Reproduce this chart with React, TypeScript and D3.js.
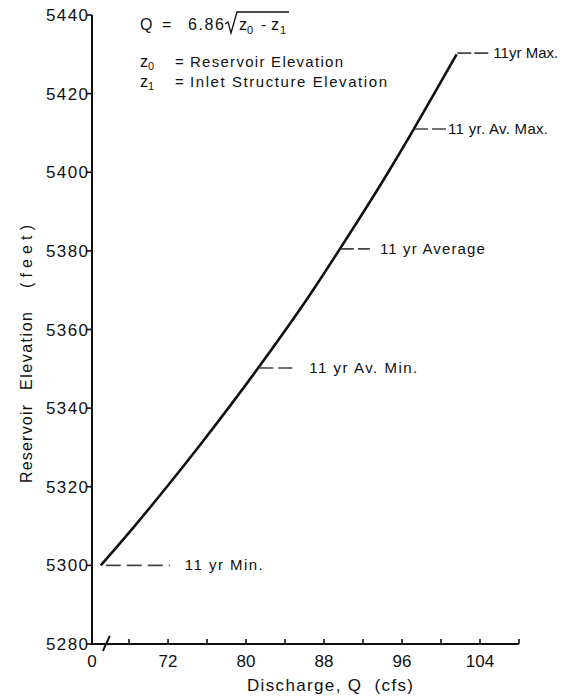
import React from "react";
import * as d3 from "d3";

// Curve: reservoir elevation (ft) vs discharge Q (cfs)
const elevations = [5300, 5310, 5320, 5330, 5340, 5350, 5360, 5370, 5380, 5390, 5400, 5410, 5420, 5430];
const discharge = [65.1, 68.6, 71.9, 75.1, 78.2, 81.2, 84.1, 86.9, 89.5, 92.1, 94.6, 97.0, 99.3, 101.6];

const yTicks = [5280, 5300, 5320, 5340, 5360, 5380, 5400, 5420, 5440];
const xTicks = [68, 72, 76, 80, 84, 88, 92, 96, 100, 104, 108];
const xTickLabels = [72, 80, 88, 96, 104];

const markerElev = [5430.3, 5411, 5380.5, 5350.2, 5300];
const markerLabels = ["11yr Max.", "11 yr. Av. Max.", "11 yr Average", "11 yr Av. Min.", "11 yr Min."];

const FONT = "'Liberation Sans', Arial, sans-serif";

export default function App() {
  const W = 568, H = 698;
  const x = d3.scaleLinear().domain([64.2, 108]).range([92, 519]);
  const y = d3.scaleLinear().domain([5280, 5440]).range([644, 15]);

  const pts: [number, number][] = elevations.map((e, i) => [discharge[i], e]);
  const line = d3
    .line<[number, number]>()
    .x((d) => x(d[0]))
    .y((d) => y(d[1]))
    .curve(d3.curveBasis);

  const qAt = (e: number) => {
    const f = d3.scaleLinear().domain(elevations).range(discharge);
    return f(e);
  };

  // layout for annotation leaders: [dash start gap, dash length, text gap, text length, dasharray]
  const markerStyle: [number, number, number, number, string][] = [
    [0, 31, 5, 65, "14 3 14"],
    [1, 31, 2, 100, "13 4 14"],
    [1, 29, 10, 105, "13 4 12"],
    [1, 33, 17, 108, "14 5 14"],
    [5, 64, 15, 78, "15 6"],
  ];

  return (
    <svg width={W} height={H} style={{ position: "absolute", left: 0, top: 0, background: "#fff" }}>
      <rect x={0} y={0} width={W} height={H} fill="#fff" />
      {/* axes */}
      <line x1={92} y1={y(5440)} x2={92} y2={y(5280) + 1} stroke="#111" strokeWidth={2} />
      <line x1={91} y1={y(5280)} x2={x(108)} y2={y(5280)} stroke="#111" strokeWidth={2} />
      {yTicks.map((t) => (
        <g key={"yt" + t}>
          <line x1={87} x2={92} y1={y(t)} y2={y(t)} stroke="#111" strokeWidth={1.6} />
          <text
            x={88}
            y={y(t) + 6}
            textAnchor="end"
            fontFamily={FONT}
            fontSize={17}
            fill="#111"
            textLength={42}
            lengthAdjust="spacing"
          >
            {t}
          </text>
        </g>
      ))}
      {xTicks.map((t) => (
        <line key={"xt" + t} x1={x(t)} x2={x(t)} y1={y(5280)} y2={y(5280) - 5} stroke="#111" strokeWidth={1.6} />
      ))}
      {xTickLabels.map((t) => (
        <text key={"xl" + t} x={x(t)} y={667} textAnchor="middle" fontFamily={FONT} fontSize={17} fill="#111">
          {t}
        </text>
      ))}
      <text x={92} y={667} textAnchor="middle" fontFamily={FONT} fontSize={17} fill="#111">
        0
      </text>
      {/* axis break */}
      <path d="M103,651 Q105,646 106,644 L108,640 Q109,637 110,636" fill="none" stroke="#111" strokeWidth={2} />

      {/* axis titles */}
      <text x={247} y={691} fontFamily={FONT} fontSize={17} fill="#111" textLength={166} lengthAdjust="spacing" xmlSpace="preserve">
        Discharge, Q  (cfs)
      </text>
      <g transform="rotate(-90)" fontFamily={FONT} fontSize={16} fill="#111">
        <text x={-483} y={32} textLength={78} lengthAdjust="spacing">Reservoir</text>
        <text x={-390} y={32} textLength={78} lengthAdjust="spacing">Elevation</text>
        <text x={-288} y={32} textLength={63} lengthAdjust="spacing" xmlSpace="preserve">(feet)</text>
      </g>

      {/* formula block */}
      <g fontFamily={FONT} fill="#111">
        <text x={140} y={30} fontSize={16}>Q</text>
        <text x={162} y={30} fontSize={16}>=</text>
        <text x={188} y={30} fontSize={16} textLength={36} lengthAdjust="spacing">6.86</text>
        <path d="M225,24 L228,22 L231,33 L237,12 L289,12" fill="none" stroke="#111" strokeWidth={1.3} />
        <text x={239} y={30} fontSize={16}>z</text>
        <text x={247} y={34} fontSize={11}>0</text>
        <text x={261} y={30} fontSize={16}>-</text>
        <text x={271} y={30} fontSize={16}>z</text>
        <text x={280} y={34} fontSize={11}>1</text>

        <text x={140} y={67} fontSize={16}>z</text>
        <text x={148} y={70} fontSize={11}>0</text>
        <text x={175} y={67} fontSize={15}>=</text>
        <text x={190} y={67} fontSize={15} textLength={153} lengthAdjust="spacing">Reservoir Elevation</text>

        <text x={140} y={87} fontSize={16}>z</text>
        <text x={148} y={90} fontSize={11}>1</text>
        <text x={175} y={87} fontSize={15}>=</text>
        <text x={190} y={87} fontSize={15} textLength={197} lengthAdjust="spacing">Inlet Structure Elevation</text>
      </g>

      {/* curve */}
      <path d={line(pts) || ""} fill="none" stroke="#111" strokeWidth={2.6} />

      {/* annotations */}
      {markerElev.map((e, i) => {
        const [gap, len, tgap, tlen, dash] = markerStyle[i];
        const cx = x(qAt(e));
        const cy = y(e);
        const x0 = cx + gap;
        const x1 = x0 + len;
        return (
          <g key={"m" + i}>
            <line x1={x0} x2={x1} y1={cy} y2={cy} stroke="#444" strokeWidth={1.6} strokeDasharray={dash} />
            <text
              x={x1 + tgap}
              y={cy + 5}
              fontFamily={FONT}
              fontSize={15}
              fill="#111"
              textLength={tlen}
              lengthAdjust="spacing"
            >
              {markerLabels[i]}
            </text>
          </g>
        );
      })}
    </svg>
  );
}
